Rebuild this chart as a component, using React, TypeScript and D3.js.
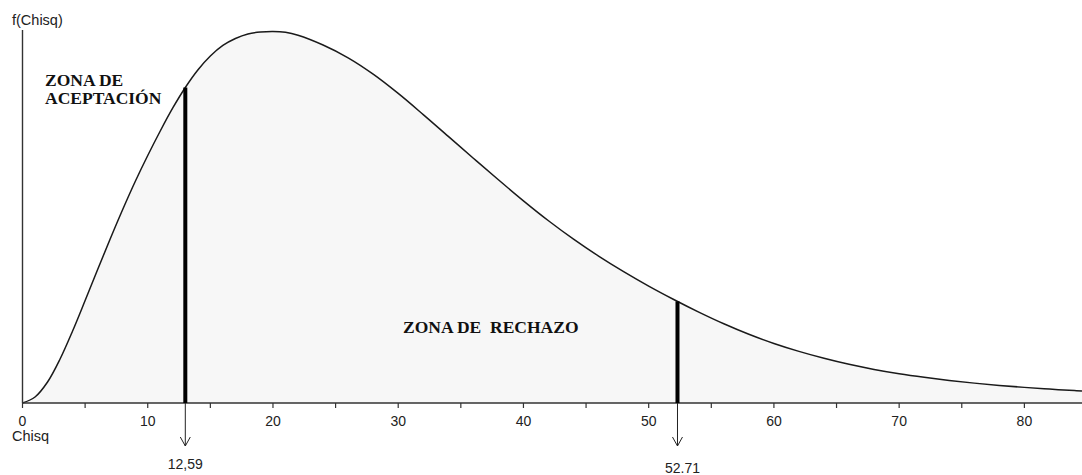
import React from "react";
import * as d3 from "d3";

// Curve points: chi-square value and density height
const chisqValues = [0, 1, 2, 3, 4, 5, 6, 7, 8, 9, 10, 11, 12, 13, 14, 15, 16, 17, 18, 19, 20, 21, 22, 24, 26, 28, 30, 32, 34, 36, 38, 40, 42, 44, 46, 48, 50, 52, 54, 56, 58, 60, 62, 64, 66, 68, 70, 72, 74, 76, 78, 80, 82, 84, 84.6];
const densityValues = [0, 0.00102, 0.00356, 0.00746, 0.01221, 0.01738, 0.02264, 0.02781, 0.03281, 0.03756, 0.04197, 0.04613, 0.05003, 0.0535, 0.05647, 0.05884, 0.06063, 0.06181, 0.06258, 0.0629, 0.063, 0.06286, 0.06237, 0.06071, 0.05854, 0.05577, 0.0525, 0.04891, 0.04521, 0.04151, 0.03785, 0.03429, 0.03091, 0.02779, 0.02491, 0.02227, 0.01982, 0.01755, 0.01541, 0.01343, 0.01165, 0.01009, 0.00875, 0.00758, 0.00656, 0.0057, 0.00497, 0.00436, 0.00383, 0.00337, 0.00298, 0.00265, 0.00236, 0.0021, 0.00203];

const xTickMajor = [0, 10, 20, 30, 40, 50, 60, 70, 80];
const xTickMinor = [5, 15, 25, 35, 45, 55, 65, 75];

// Critical-value markers (drawn position) and their labels
const markerPositions = [13.0, 52.3];
const markerLabels = ["12,59", "52.71"];

const W = 1082;
const H = 475;
const X0 = 22.5;
const Y0 = 403;
const YTOP = 30;

export default function App() {
  const x = d3.scaleLinear().domain([0, 84.6]).range([X0, W]);
  const y = d3.scaleLinear().domain([0, 0.063]).range([Y0, 31.5]);

  const pts: [number, number][] = chisqValues.map((v, i) => [v, densityValues[i]]);
  const curve = d3.curveCatmullRom.alpha(0.5);
  const line = d3
    .line<[number, number]>()
    .x((d) => x(d[0]))
    .y((d) => y(d[1]))
    .curve(curve);
  const area = d3
    .area<[number, number]>()
    .x((d) => x(d[0]))
    .y0(Y0)
    .y1((d) => y(d[1]))
    .curve(curve);

  const interp = d3.scaleLinear().domain(chisqValues).range(densityValues);

  const sans = "'Liberation Sans', Arial, sans-serif";
  const serif = "'Liberation Serif', 'Times New Roman', serif";

  return (
    <svg
      width={W}
      height={H}
      style={{ position: "absolute", left: 0, top: 0, background: "#fff" }}
    >
      <path d={area(pts) || ""} fill="#f7f7f7" />
      <path d={line(pts) || ""} fill="none" stroke="#1a1a1a" strokeWidth={1.5} />

      {/* y axis */}
      <line x1={X0} x2={X0} y1={YTOP} y2={Y0} stroke="#333" strokeWidth={1.4} />
      {/* x axis */}
      <line x1={X0} x2={W} y1={Y0} y2={Y0} stroke="#333" strokeWidth={1.6} />
      {[...xTickMajor, ...xTickMinor].map((t) => (
        <line key={"t" + t} x1={x(t)} x2={x(t)} y1={Y0} y2={Y0 + 5} stroke="#333" strokeWidth={1.2} />
      ))}
      {xTickMajor.map((t) => (
        <text key={"l" + t} x={x(t)} y={426} textAnchor="middle" fontFamily={sans} fontSize={14} fill="#222">
          {t}
        </text>
      ))}

      <text x={12} y={25} fontFamily={sans} fontSize={14.5} fill="#222">f(Chisq)</text>
      <text x={12} y={441} fontFamily={sans} fontSize={14.5} fill="#222">Chisq</text>

      {markerPositions.map((m, i) => {
        const cx = x(m);
        const top = y(interp(m));
        const tip = 446;
        return (
          <g key={"m" + i}>
            <rect x={cx - 2} y={top} width={4} height={Y0 - top} fill="#000" />
            <line x1={cx} x2={cx} y1={Y0} y2={tip} stroke="#222" strokeWidth={1} />
            <polyline
              points={`${cx - 5},${tip - 9} ${cx},${tip} ${cx + 5},${tip - 9}`}
              fill="none"
              stroke="#222"
              strokeWidth={1}
            />
            <text
              x={cx + (i === 0 ? 0 : 5)}
              y={i === 0 ? 469 : 473}
              textAnchor="middle"
              fontFamily={sans}
              fontSize={14}
              fill="#222"
            >
              {markerLabels[i]}
            </text>
          </g>
        );
      })}

      <text x={45} y={86} fontFamily={serif} fontWeight="bold" fontSize={17.5} fill="#111">ZONA DE</text>
      <text x={45} y={104} fontFamily={serif} fontWeight="bold" fontSize={17.5} fill="#111">ACEPTACIÓN</text>
      <text x={403} y={333} fontFamily={serif} fontWeight="bold" fontSize={17.5} fill="#111" style={{ whiteSpace: "pre" }}>
        {"ZONA DE  RECHAZO"}
      </text>
    </svg>
  );
}
